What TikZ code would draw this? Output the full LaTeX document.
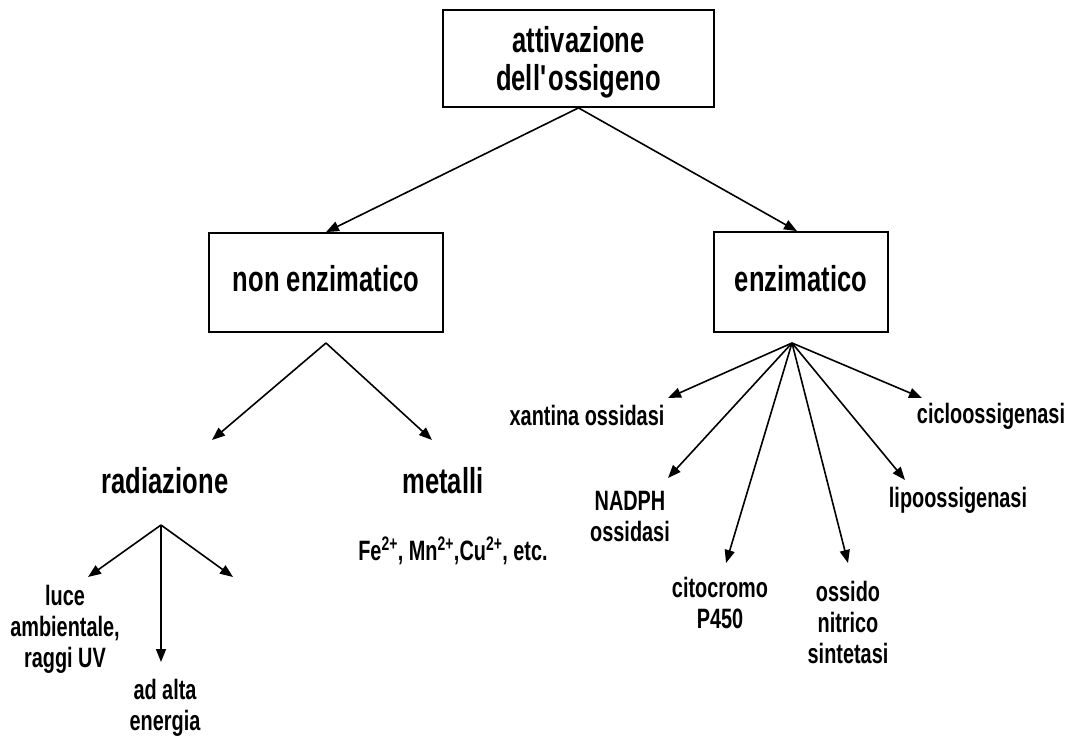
\documentclass[tikz,border=0pt]{standalone}
\usepackage{fontspec}
\setmainfont[FakeStretch=0.71]{Liberation Sans}
\usetikzlibrary{arrows.meta}
\begin{document}
\begin{tikzpicture}[x=1pt,y=-1pt,
  box/.style={draw=black,line width=1.8pt,inner sep=0pt,align=center,
    font=\fontsize{36}{38.5}\selectfont\bfseries},
  big/.style={inner sep=0pt,anchor=base,align=center,
    font=\fontsize{36}{38.5}\selectfont\bfseries},
  small/.style={inner sep=0pt,anchor=base,align=center,
    font=\fontsize{28}{31}\selectfont\bfseries},
  arr/.style={line width=1.6pt,-{Triangle[length=13pt,width=10pt]}}]
\useasboundingbox (0,0) rectangle (1072,738);
% boxes
\node[box,minimum width=271pt,minimum height=97pt,text height=70pt,text depth=5pt] (top) at (578.5,58.5) {attivazione\\dell\textquotesingle ossigeno};
\node[box,minimum width=234pt,minimum height=99pt,text height=28pt,text depth=9pt] (non) at (326,282.5) {non enzimatico};
\node[box,minimum width=174pt,minimum height=100pt,text height=29pt,text depth=9pt] (enz) at (801,282) {enzimatico};
% second level texts
\node[big] (rad) at (165,493) {radiazione};
\node[big] (met) at (443,493) {metalli};
\node[small] (ions) at (453,560) {Fe\textsuperscript{2+}, Mn\textsuperscript{2+},Cu\textsuperscript{2+}, etc.};
\node[small] (luce) at (65,667) {luce\\ambientale,\\raggi UV};
\node[small] (alta) at (165,730) {ad alta\\energia};
\node[small] (xan) at (587,425) {xantina ossidasi};
\node[small] (nadph) at (630,541) {NADPH\\ossidasi};
\node[small] (cito) at (720,628) {citocromo\\P450};
\node[small] (ossido) at (848,663) {ossido\\nitrico\\sintetasi};
\node[small] (lipo) at (958,507) {lipoossigenasi};
\node[small] (ciclo) at (991,423) {cicloossigenasi};
% coordinates
\coordinate (nA) at (326,343);
\coordinate (rA) at (161,525);
\coordinate (eA) at (792,343);
\coordinate (tRad) at (212,440);
\coordinate (tMet) at (432,440);
\coordinate (tLuce) at (88,577);
\coordinate (tAlta) at (161,662);
\coordinate (tEmpty) at (233,577);
\coordinate (tXan) at (668,398);
\coordinate (tNad) at (668,478);
\coordinate (tCito) at (726,563);
\coordinate (tOss) at (848,563);
\coordinate (tLipo) at (905,480);
\coordinate (tCiclo) at (922,398);
% connectors
\draw[arr] (top.south) -- (non.north);
\draw[arr] (top.south) -- ([xshift=-4pt]enz.north);
\draw[arr] (nA) -- (tRad);
\draw[arr] (nA) -- (tMet);
\draw[arr] (rA) -- (tLuce);
\draw[arr] (rA) -- (tAlta);
\draw[arr] (rA) -- (tEmpty);
\draw[arr] (eA) -- (tXan);
\draw[arr] (eA) -- (tNad);
\draw[arr] (eA) -- (tCito);
\draw[arr] (eA) -- (tOss);
\draw[arr] (eA) -- (tLipo);
\draw[arr] (eA) -- (tCiclo);
\end{tikzpicture}
\end{document}
